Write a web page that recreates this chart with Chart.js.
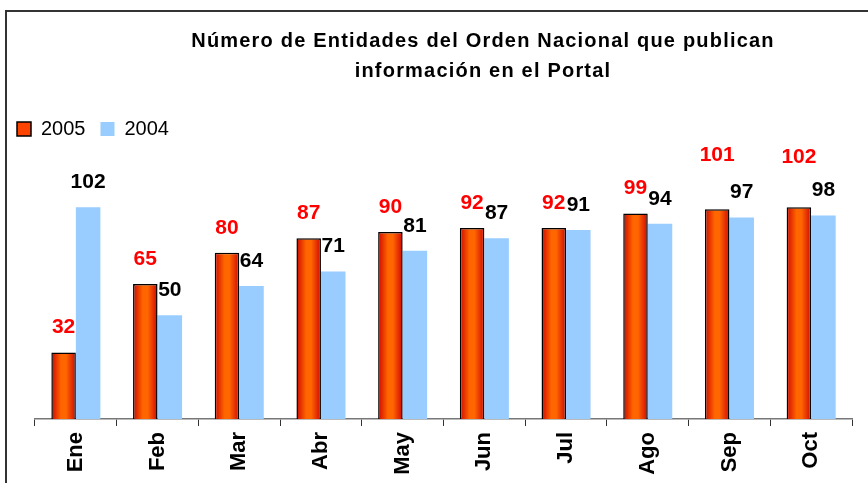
<!DOCTYPE html>
<html>
<head>
<meta charset="utf-8">
<script src="https://cdn.jsdelivr.net/npm/chart.js@4"></script>
<style>
body{margin:0;background:#fff;overflow:hidden;}
#wrap{position:relative;width:868px;height:483px;overflow:hidden;}
#frame{position:absolute;left:5px;top:10px;width:900px;height:500px;border-left:2px solid #333;border-top:2px solid #333;}
canvas{position:absolute;left:0;top:0;}
</style>
</head>
<body>
<div id="wrap"><div id="frame"></div><canvas id="graph" width="868" height="483"></canvas></div>
<script>
/*********************************** data ***********************************/
const months = ['Ene', 'Feb', 'Mar', 'Abr', 'May', 'Jun', 'Jul', 'Ago', 'Sep', 'Oct'];
const values2005 = [32, 65, 80, 87, 90, 92, 92, 99, 101, 102];
const values2004 = [102, 50, 64, 71, 81, 87, 91, 94, 97, 98];
const seriesNames = ['2005', '2004'];
const titleLines = ['Número de Entidades del Orden Nacional que publican', 'información en el Portal'];

const FONT = '"Liberation Sans", Arial, sans-serif';

/*********************************** orange cylinder look for 2005 *********/
function barGradient(ctx) {
    const chart = ctx.chart;
    const xs = chart.scales.x;
    if (!xs || ctx.type !== 'data') return '#ff5500';
    const w = xs.width / months.length * 0.6 / 2;
    const left = xs.getPixelForValue(ctx.dataIndex) - w;
    const g = chart.ctx.createLinearGradient(left, 0, left + w, 0);
    g.addColorStop(0, '#d00800');
    g.addColorStop(0.4, '#ff6600');
    g.addColorStop(0.6, '#ff6600');
    g.addColorStop(1, '#d00800');
    return g;
}

/*********************************** title drawn by hand *******************/
const titlePlugin = {
    id: 'twoLineTitle',
    afterDraw(chart, args, opts) {
        const c = chart.ctx;
        c.save();
        c.font = 'bold 20px ' + FONT;
        c.letterSpacing = '1.2px';
        c.fillStyle = '#000';
        c.textAlign = 'center';
        c.textBaseline = 'middle';
        titleLines.forEach((t, i) => c.fillText(t, opts.x, opts.y + i * opts.lineGap));
        c.restore();
    }
};

/*********************************** value labels ***************************/
const valueLabels = {
    id: 'valueLabels',
    afterDatasetsDraw(chart, args, opts) {
        const c = chart.ctx;
        c.save();
        c.font = 'bold 21px ' + FONT;
        c.textAlign = 'center';
        c.textBaseline = 'middle';
        chart.data.datasets.forEach((ds, i) => {
            chart.getDatasetMeta(i).data.forEach((bar, j) => {
                const lift = (opts.raise[i] && opts.raise[i][j]) || 0;
                c.fillStyle = opts.colors[i];
                c.fillText(ds.data[j], bar.x, bar.y - opts.gap - lift);
            });
        });
        c.restore();
    }
};

/*********************************** chart **********************************/
new Chart(document.getElementById('graph'), {
    type: 'bar',
    data: {
        labels: months,
        datasets: [{
            label: seriesNames[0],
            data: values2005,
            backgroundColor: barGradient,
            borderColor: '#000',
            borderWidth: 1.5,
            categoryPercentage: 0.6,
            barPercentage: 1
        }, {
            label: seriesNames[1],
            data: values2004,
            backgroundColor: '#99ccff',
            borderWidth: 0,
            categoryPercentage: 0.6,
            barPercentage: 1
        }]
    },
    options: {
        responsive: false,
        animation: false,
        layout: { padding: { left: 2, right: 16, top: 104, bottom: 0 } },
        scales: {
            x: {
                afterFit: s => { s.height = 64; },
                grid: { drawOnChartArea: false, tickLength: 7, color: '#333', offset: true },
                border: { color: '#777', width: 1.5 },
                ticks: {
                    color: '#000',
                    font: { family: FONT, size: 22, weight: 'bold' },
                    minRotation: 90,
                    maxRotation: 90,
                    padding: 6
                }
            },
            y: {
                min: 0,
                max: 130,
                afterFit: s => { s.width = 33; },
                ticks: { display: false },
                grid: { display: false },
                border: { display: false }
            }
        },
        plugins: {
            legend: {
                position: 'top',
                align: 'start',
                labels: {
                    boxWidth: 14,
                    boxHeight: 14,
                    padding: 15,
                    color: '#000',
                    font: { family: FONT, size: 20 },
                    generateLabels: () => [
                        { text: seriesNames[0], fillStyle: '#ff4400', strokeStyle: '#000', lineWidth: 1.5, datasetIndex: 0 },
                        { text: seriesNames[1], fillStyle: '#99ccff', strokeStyle: '#99ccff', lineWidth: 0, datasetIndex: 1 }
                    ]
                }
            },
            tooltip: { enabled: false },
            twoLineTitle: { x: 483, y: 41, lineGap: 30 },
            valueLabels: {
                gap: 25,
                colors: ['#ff0000', '#000000'],
                raise: { 0: { 8: 29, 9: 25 } }
            }
        }
    },
    plugins: [titlePlugin, valueLabels]
});
</script>
</body>
</html>
